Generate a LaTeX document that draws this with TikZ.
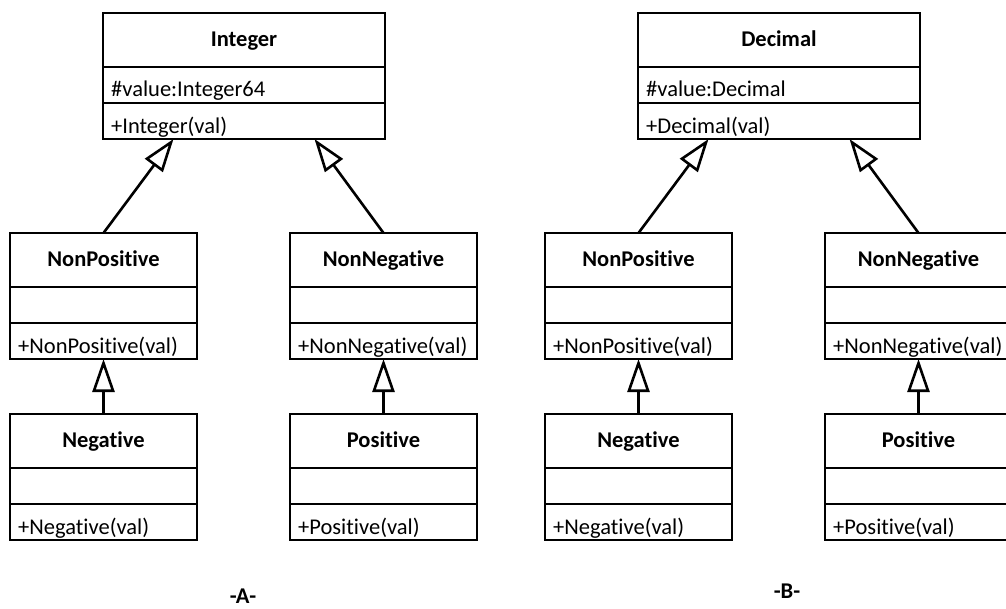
\documentclass[tikz,border=0pt]{standalone}
\usepackage{fontspec}
\setmainfont{Carlito}[Ligatures=NoCommon]
\usetikzlibrary{arrows.meta,calc}
\tikzset{
  classbox/.style={rectangle, draw, line width=2.7pt, inner sep=0pt, outer sep=0pt,
    minimum height=126pt, anchor=north west},
  divider/.style={line width=2.7pt},
  titletext/.style={font=\fontsize{22.5}{26}\selectfont\bfseries, inner sep=0pt, anchor=base},
  membertext/.style={font=\fontsize{22.5}{26}\selectfont, inner sep=0pt, anchor=base west},
  inherits/.style={line width=2.6pt, -{Triangle[open, length=33pt, width=22pt, line width=2.6pt]}},
  caption/.style={font=\fontsize{22.5}{26}\selectfont\bfseries, inner sep=0pt, anchor=base},
}
% #1 name, #2 left, #3 top, #4 width, #5 class name, #6 attribute, #7 operation
\newcommand\umlclass[7]{%
  \node[classbox, minimum width=#4pt] (#1) at (#2,#3) {};
  \draw[divider] ([yshift=-54pt]#1.north west) -- ([yshift=-54pt]#1.north east);
  \draw[divider] ([yshift=-90pt]#1.north west) -- ([yshift=-90pt]#1.north east);
  \node[titletext] (#1-name) at ([yshift=-33.5pt]#1.north) {#5};
  \node[membertext] (#1-attr) at ([xshift=8pt,yshift=-83pt]#1.north west) {#6};
  \node[membertext] (#1-op) at ([xshift=8pt,yshift=-120.5pt]#1.north west) {#7};
}
\begin{document}
\begin{tikzpicture}[x=1pt, y=-1pt]
  \useasboundingbox (0,0) rectangle (1006,608);
  \clip (0,0) rectangle (1006,608);

  % hierarchy A: integers
  \umlclass{int}{103}{13}{282}{Integer}{\#value:Integer64}{+Integer(val)}
  \umlclass{anp}{10}{233}{187}{NonPositive}{}{+NonPositive(val)}
  \umlclass{ann}{290}{233}{187}{NonNegative}{}{+NonNegative(val)}
  \umlclass{aneg}{10}{414}{187}{Negative}{}{+Negative(val)}
  \umlclass{apos}{290}{414}{187}{Positive}{}{+Positive(val)}

  \draw[inherits] (anp.north) -- ($(int.south west)!0.25!(int.south east)$);
  \draw[inherits] (ann.north) -- ($(int.south west)!0.75!(int.south east)$);
  \draw[inherits] (aneg.north) -- (anp.south);
  \draw[inherits] (apos.north) -- (ann.south);

  % hierarchy B: decimals
  \umlclass{dec}{638}{13}{282}{Decimal}{\#value:Decimal}{+Decimal(val)}
  \umlclass{bnp}{545}{233}{187}{NonPositive}{}{+NonPositive(val)}
  \umlclass{bnn}{825}{233}{187}{NonNegative}{}{+NonNegative(val)}
  \umlclass{bneg}{545}{414}{187}{Negative}{}{+Negative(val)}
  \umlclass{bpos}{825}{414}{187}{Positive}{}{+Positive(val)}

  \draw[inherits] (bnp.north) -- ($(dec.south west)!0.25!(dec.south east)$);
  \draw[inherits] (bnn.north) -- ($(dec.south west)!0.75!(dec.south east)$);
  \draw[inherits] (bneg.north) -- (bnp.south);
  \draw[inherits] (bpos.north) -- (bnn.south);

  \node[caption] (capA) at (243,603) {-A-};
  \node[caption] (capB) at (787,598) {-B-};
\end{tikzpicture}
\end{document}
